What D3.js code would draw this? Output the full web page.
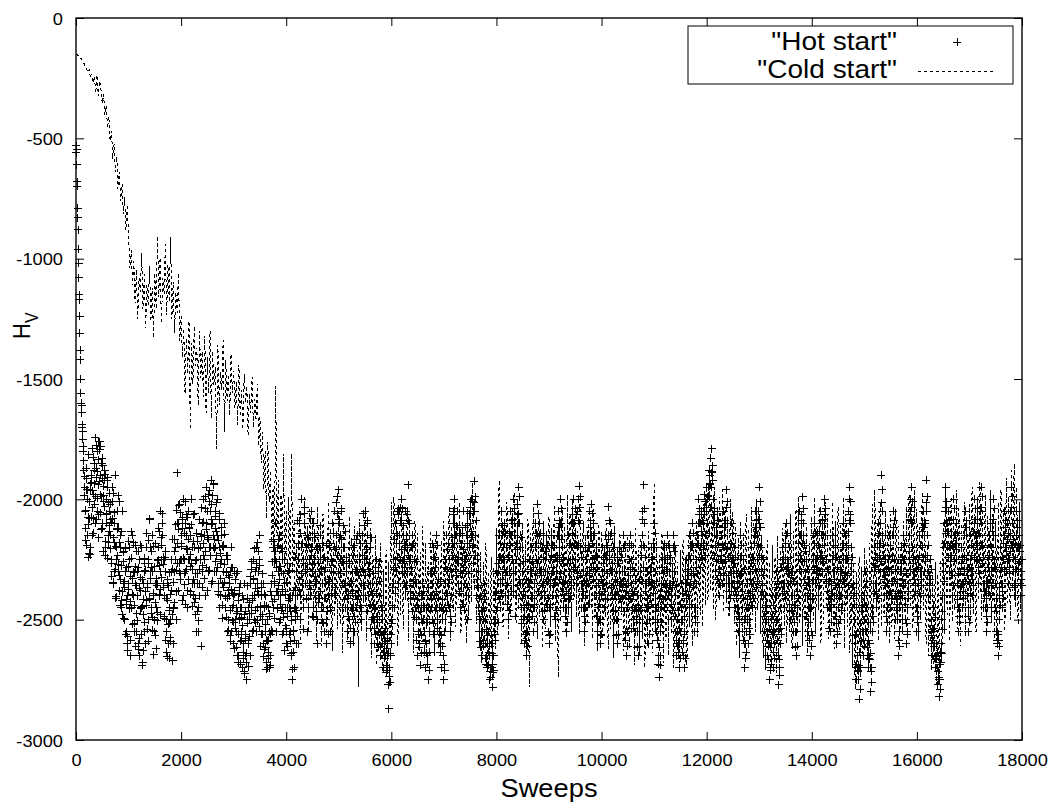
<!DOCTYPE html>
<html>
<head>
<meta charset="utf-8">
<script src="https://cdn.jsdelivr.net/npm/d3@7"></script>
<style>
html,body{margin:0;padding:0;background:#fff;}
svg{display:block;}
text{font-family:"Liberation Sans",Arial,Helvetica,sans-serif;fill:#000;}
</style>
</head>
<body>
<svg id="chart" width="1053" height="804"></svg>
<script>
// ---------- data ----------
const xTicks = [0,2000,4000,6000,8000,10000,12000,14000,16000,18000];
const yTicks = [0,-500,-1000,-1500,-2000,-2500,-3000];
const seriesNames = ['"Hot start"', '"Cold start"'];

// Hot start, first sweeps (0..145, every 5 sweeps)
const hotEarlyStep = 5;
const hotEarly = [-530,-560,-545,-610,-680,-700,-790,-830,-880,-960,
  -1020,-1080,-1150,-1170,-1240,-1310,-1380,-1420,-1500,-1560,
  -1600,-1640,-1610,-1700,-1690,-1750,-1720,-1800,-1780,-1840];

// Hot start, sweeps 150..18000, every 25 sweeps
const hotLateStart = 150, hotLateStep = 25;
const hotLate = [
-1880,-2050,-1960,-2150,-2010,-2200,-1930,-2080,-1850,-1990,-1800,-1940,-1760,-1900,-1830,-2010,-1880,-2100,-1950,-2180,
-2020,-2250,-2080,-2300,-1900,-2200,-2120,-2380,-2150,-2420,-2260,-2500,-2300,-2600,-2350,-2200,-2450,-2150,-2400,-2280,
-2550,-2300,-2650,-2380,-2200,-2480,-2300,-2600,-2420,-2250,-2080,-2300,-2150,-2400,-2500,-2620,-2350,-2200,-2050,-2250,
-2150,-2400,-2300,-2550,-2420,-2660,-2500,-2380,-2600,-2300,-2200,-1890,-2100,-2020,-2250,-2120,-2000,-2300,-2150,-2380,
-2050,-2280,-2000,-2200,-2350,-2480,-2250,-2550,-2400,-2200,-2100,-2000,-2250,-1950,-2150,-1980,-2200,-1920,-2100,-1940,
-2050,-2300,-2000,-2200,-2400,-2150,-2300,-2100,-2450,-2250,-2500,-2350,-2200,-2450,-2600,-2380,-2550,-2300,-2650,-2450,
-2550,-2700,-2480,-2650,-2750,-2600,-2500,-2350,-2550,-2250,-2400,-2200,-2450,-2300,-2150,-2350,-2500,-2600,-2400,-2680,
-2700,-2550,-2650,-2400,-2200,-2350,-2100,-2450,-2300,-2150,-2400,-2250,-2550,-2350,-2600,-2450,-2300,-2550,-2650,-2400,
-2700,-2500,-2300,-2600,-2100,-2400,-2000,-2250,-2100,-2350,-2150,-2450,-2250,-2050,-2300,-2100,-2400,-2200,-2500,-2300,
-2150,-2450,-2250,-2550,-2350,-2600,-2400,-2200,-2450,-2100,-2300,-2050,-2200,-1990,-1960,-2150,-2050,-2350,-2200,-2450,
-2300,-2550,-2350,-2600,-2450,-2200,-2550,-2300,-2150,-2400,-2250,-2500,-2150,-2350,-2050,-2250,-2100,-2400,-2200,-2500,
-2350,-2600,-2450,-2250,-2550,-2400,-2650,-2500,-2700,-2580,-2720,-2650,-2870,-2760,-2600,-2450,-2250,-2100,-2300,-2150,
-2050,-2250,-2000,-2150,-2350,-2050,-2200,-1940,-2100,-2300,-2150,-2400,-2250,-2500,-2650,-2450,-2690,-2500,-2350,-2550,
-2700,-2450,-2750,-2550,-2300,-2500,-2200,-2400,-2150,-2350,-2600,-2450,-2700,-2500,-2750,-2350,-2150,-2400,-2250,-2550,
-2300,-2100,-2000,-2250,-2050,-2350,-2150,-2450,-2250,-2050,-2350,-2150,-2500,-2300,-2100,-2000,-2200,-1925,-2150,-2400,
-2300,-2550,-2400,-2650,-2500,-2350,-2600,-2700,-2550,-2750,-2600,-2780,-2650,-2500,-2300,-2450,-2150,-2350,-2050,-2250,
-2100,-2400,-2200,-2500,-2300,-2050,-2250,-2000,-2150,-2400,-2020,-1950,-2200,-2450,-2300,-2600,-2400,-2650,-2500,-2250,
-2450,-2200,-2550,-2350,-2100,-2020,-2250,-2100,-2400,-2200,-2500,-2300,-2150,-2450,-2600,-2350,-2150,-2400,-2200,-2500,
-2300,-2050,-2250,-2000,-2200,-2450,-2300,-2550,-2350,-2150,-2400,-2100,-2250,-2000,-2150,-2350,-2050,-1945,-2200,-2450,
-2300,-2550,-2400,-2150,-2350,-2050,-2020,-2250,-2100,-2400,-2200,-2550,-2350,-2600,-2400,-2200,-2450,-2150,-2350,-2030,
-2250,-2100,-2400,-2200,-2500,-2300,-2600,-2400,-2200,-2450,-2300,-2150,-2400,-2650,-2450,-2250,-2150,-2350,-2500,-2300,
-2550,-2400,-2650,-2500,-2300,-2150,-1940,-2200,-2450,-2300,-2600,-2400,-2200,-2350,-2100,-2300,-2550,-2450,-2740,-2550,
-2350,-2200,-2450,-2250,-2150,-2400,-2200,-2500,-2300,-2150,-2400,-2650,-2500,-2700,-2550,-2350,-2600,-2700,-2450,-2250,
-2400,-2150,-2350,-2100,-2300,-2550,-2350,-2150,-2000,-2200,-2050,-2250,-1980,-2150,-1950,-2100,-1880,-1830,-1790,-2000,
-2150,-2300,-2050,-2250,-2400,-2150,-2350,-2050,-2250,-1960,-2200,-2450,-2300,-2100,-2350,-2200,-2450,-2300,-2550,-2350,
-2150,-2450,-2250,-2700,-2550,-2350,-2600,-2400,-2200,-2450,-2250,-2050,-2300,-2150,-1950,-2200,-2400,-2250,-2550,-2400,
-2650,-2500,-2750,-2600,-2400,-2700,-2550,-2300,-2500,-2770,-2600,-2350,-2200,-2450,-2250,-2100,-2350,-2200,-2500,-2300,
-2550,-2400,-2650,-2450,-2250,-2050,-2300,-1990,-2150,-2400,-2250,-2550,-2350,-2650,-2450,-2250,-2100,-2350,-2150,-2400,
-2200,-2050,-2300,-2150,-2000,-2250,-2450,-2300,-2550,-2350,-2150,-2400,-2200,-2600,-2450,-2250,-2500,-2300,-2100,-2350,
-2150,-2400,-2050,-1950,-2200,-2450,-2350,-2600,-2750,-2650,-2830,-2550,-2400,-2650,-2500,-2300,-2550,-2700,-2600,-2800,
-2550,-2350,-2200,-2450,-2250,-2100,-2300,-1900,-2150,-2400,-2250,-2550,-2350,-2150,-2450,-2300,-2050,-2250,-2500,-2350,
-2650,-2450,-2200,-2400,-2150,-2350,-2600,-2450,-2250,-2050,-1950,-2200,-2400,-2250,-2550,-2350,-2150,-2400,-2200,-2050,
-2300,-1920,-2150,-2400,-2250,-2500,-2650,-2450,-2700,-2600,-2770,-2820,-2680,-2500,-2300,-2100,-1950,-2200,-2050,-2300,
-2150,-2400,-2000,-2250,-2100,-2350,-2550,-2400,-2200,-2450,-2300,-2050,-2250,-2550,-2350,-2150,-2400,-2200,-2000,-2250,
-2100,-2350,-2150,-1950,-2200,-2450,-2300,-2550,-2350,-2150,-2400,-2200,-2000,-2250,-2450,-2600,-2650,-2400,-2200,-2450,
-2250,-2050,-2300,-2100,-2350,-2150,-1950,-2200,-2400,-2250,-2050,-2300,-2150,-2400,-2250];

// Hot start, in-between sweeps 162.5..17987.5, every 25 sweeps
const hotMidStart = 162.5, hotMidStep = 25;
const hotMid = [
-1950,-2120,-2000,-2240,-2080,-1900,-2150,-1980,-2100,-1870,-2050,-1760,-1980,-1850,-2100,-1920,-2200,-2000,-2150,-2050,
-2150,-1950,-2350,-2100,-2250,-2050,-2300,-2200,-2450,-2050,-2350,-2200,-2550,-2400,-2250,-2650,-2450,-2300,-2550,-2350,
-2400,-2600,-2250,-2450,-2690,-2350,-2550,-2200,-2350,-2500,-2200,-2450,-2300,-2550,-2350,-2450,-2250,-2400,-2300,-2100,
-2350,-2250,-2500,-2350,-2600,-2450,-2300,-2670,-2450,-2250,-2500,-2100,-2300,-2250,-2150,-2400,-2250,-2100,-2450,-2250,
-2250,-2150,-2350,-2400,-2200,-2550,-2350,-2450,-2250,-2610,-2300,-2150,-2400,-2100,-2300,-2200,-2050,-2350,-2200,-2300,
-2200,-2150,-2350,-2450,-2250,-2350,-2200,-2400,-2300,-2550,-2400,-2300,-2550,-2400,-2300,-2500,-2450,-2680,-2500,-2350,
-2400,-2600,-2350,-2680,-2500,-2450,-2650,-2450,-2400,-2500,-2300,-2550,-2350,-2250,-2450,-2400,-2350,-2450,-2550,-2500,
-2450,-2700,-2350,-2550,-2450,-2250,-2550,-2200,-2400,-2500,-2300,-2450,-2250,-2450,-2550,-2300,-2450,-2400,-2750,-2550,
-2450,-2600,-2400,-2250,-2500,-2200,-2350,-2450,-2300,-2200,-2550,-2350,-2400,-2200,-2450,-2250,-2350,-2600,-2400,-2200,
-2300,-2350,-2450,-2300,-2500,-2250,-2350,-2550,-2300,-2350,-2200,-2400,-2150,-2300,-2100,-2250,-2450,-2200,-2350,-2300,
-2450,-2400,-2500,-2350,-2300,-2450,-2400,-2450,-2300,-2250,-2450,-2350,-2300,-2250,-2400,-2150,-2350,-2300,-2350,-2400,
-2500,-2450,-2350,-2600,-2300,-2550,-2450,-2600,-2550,-2650,-2620,-2770,-2700,-2650,-2500,-2350,-2450,-2250,-2050,-2350,
-2150,-2100,-2300,-2250,-2200,-2150,-2300,-2100,-2250,-2200,-2350,-2250,-2450,-2350,-2550,-2600,-2550,-2400,-2500,-2450,
-2600,-2650,-2450,-2400,-2450,-2350,-2300,-2250,-2450,-2500,-2550,-2600,-2450,-2650,-2550,-2250,-2300,-2350,-2450,-2400,
-2200,-2050,-2150,-2150,-2250,-2250,-2300,-2350,-2150,-2250,-2250,-2400,-2400,-2200,-2050,-2150,-2050,-2050,-2300,-2250,
-2450,-2500,-2550,-2550,-2450,-2500,-2650,-2600,-2650,-2700,-2700,-2720,-2550,-2400,-2350,-2300,-2250,-2250,-2150,-2200,
-2250,-2300,-2350,-2400,-2150,-2150,-2100,-2100,-2300,-2250,-2100,-2100,-2350,-2350,-2500,-2450,-2550,-2550,-2350,-2350,
-2300,-2400,-2450,-2200,-2250,-2150,-2150,-2300,-2300,-2350,-2400,-2250,-2300,-2550,-2450,-2250,-2300,-2300,-2350,-2400,
-2150,-2150,-2100,-2100,-2350,-2350,-2450,-2450,-2250,-2300,-2250,-2200,-2100,-2100,-2250,-2200,-2000,-2100,-2350,-2350,
-2450,-2450,-2250,-2300,-2200,-2150,-2150,-2150,-2250,-2300,-2400,-2450,-2500,-2500,-2300,-2350,-2300,-2250,-2200,-2150,
-2150,-2300,-2300,-2400,-2400,-2500,-2500,-2300,-2350,-2350,-2200,-2300,-2550,-2550,-2350,-2200,-2250,-2450,-2400,-2450,
-2450,-2550,-2550,-2400,-2200,-2050,-2100,-2350,-2350,-2450,-2500,-2300,-2250,-2200,-2200,-2450,-2500,-2650,-2650,-2450,
-2250,-2350,-2350,-2200,-2300,-2300,-2350,-2400,-2200,-2300,-2550,-2550,-2600,-2600,-2450,-2500,-2650,-2550,-2350,-2300,
-2250,-2250,-2200,-2200,-2450,-2450,-2250,-2100,-2100,-2100,-2150,-2100,-2050,-2050,-2000,-1950,-1900,-1950,-1920,-2100,
-2200,-2150,-2150,-2350,-2250,-2250,-2200,-2150,-2100,-2100,-2350,-2350,-2200,-2250,-2250,-2350,-2400,-2450,-2450,-2250,
-2300,-2350,-2500,-2600,-2450,-2450,-2500,-2300,-2350,-2350,-2150,-2150,-2250,-2050,-2100,-2300,-2350,-2400,-2450,-2500,
-2550,-2600,-2700,-2500,-2550,-2600,-2400,-2400,-2650,-2700,-2450,-2250,-2350,-2350,-2150,-2250,-2300,-2350,-2400,-2400,
-2450,-2550,-2550,-2350,-2150,-2150,-2100,-2100,-2250,-2300,-2400,-2450,-2450,-2550,-2350,-2150,-2250,-2250,-2300,-2300,
-2100,-2150,-2250,-2100,-2150,-2350,-2350,-2450,-2450,-2250,-2300,-2300,-2400,-2550,-2350,-2400,-2400,-2200,-2250,-2250,
-2250,-2250,-2000,-2100,-2300,-2400,-2500,-2700,-2700,-2750,-2700,-2450,-2550,-2550,-2400,-2450,-2650,-2650,-2700,-2700,
-2450,-2300,-2350,-2350,-2150,-2200,-2100,-2050,-2300,-2300,-2400,-2450,-2250,-2300,-2400,-2150,-2150,-2400,-2450,-2500,
-2550,-2300,-2300,-2250,-2250,-2500,-2550,-2350,-2150,-2000,-2100,-2300,-2300,-2450,-2450,-2250,-2300,-2300,-2100,-2150,
-2100,-2050,-2300,-2350,-2400,-2600,-2550,-2600,-2650,-2700,-2750,-2750,-2600,-2400,-2200,-2050,-2100,-2100,-2200,-2200,
-2300,-2200,-2150,-2150,-2250,-2450,-2450,-2300,-2350,-2350,-2150,-2150,-2400,-2450,-2250,-2300,-2300,-2100,-2150,-2150,
-2250,-2250,-2050,-2100,-2350,-2350,-2450,-2450,-2250,-2300,-2300,-2100,-2150,-2350,-2550,-2550,-2500,-2300,-2350,-2350,
-2150,-2200,-2200,-2250,-2250,-2050,-2100,-2300,-2350,-2150,-2200,-2200,-2350,-2300];

// Hot start, further sweeps 156..17981, every 25 sweeps
const hotQStart = 156, hotQStep = 25;
const hotQ = [
-1985,-2170,-1915,-2075,-2225,-1965,-2035,-1825,-1935,-1775,-1885,-2065,-1795,-2125,-1915,-1985,-2235,-2060,-1910,-2110,
-2085,-2320,-1975,-2180,-2410,-2125,-2270,-2010,-2335,-2480,-2215,-2365,-2435,-2570,-2280,-2425,-2135,-2330,-2515,-2190,
-2475,-2215,-2580,-2325,-2445,-2630,-2265,-2385,-2540,-2170,-2410,-2285,-2490,-2195,-2565,-2330,-2470,-2135,-2375,-2190,
-2270,-2485,-2215,-2635,-2360,-2515,-2590,-2290,-2455,-2165,-2385,-2265,-2025,-2335,-2185,-2075,-2310,-2435,-2065,-2210,
-2115,-2395,-2265,-2065,-2430,-2310,-2175,-2505,-2290,-2145,-2365,-2235,-2040,-2285,-2160,-2010,-2235,-2085,-1985,-2165,
-2120,-2235,-2385,-2085,-2265,-2495,-2190,-2345,-2235,-2410,-2315,-2565,-2285,-2390,-2510,-2335,-2615,-2465,-2390,-2590,
-2490,-2635,-2715,-2560,-2410,-2585,-2475,-2290,-2420,-2335,-2510,-2265,-2385,-2215,-2485,-2560,-2310,-2440,-2615,-2585,
-2635,-2485,-2560,-2315,-2165,-2415,-2260,-2385,-2190,-2335,-2460,-2215,-2490,-2385,-2535,-2265,-2410,-2590,-2485,-2635,
-2585,-2365,-2485,-2185,-2335,-2065,-2185,-2265,-2035,-2415,-2290,-2160,-2375,-2235,-2485,-2140,-2320,-2465,-2265,-2410,
-2385,-2185,-2515,-2410,-2285,-2465,-2335,-2185,-2390,-2260,-2140,-2365,-2015,-2235,-2085,-2310,-2165,-2265,-2415,-2135,
-2385,-2485,-2265,-2535,-2390,-2235,-2485,-2165,-2415,-2315,-2185,-2465,-2235,-2110,-2315,-2185,-2465,-2265,-2535,-2385,
-2435,-2535,-2285,-2485,-2615,-2340,-2565,-2460,-2635,-2535,-2690,-2585,-2735,-2640,-2515,-2365,-2165,-2285,-2185,-2065,
-2185,-2035,-2265,-2110,-2285,-2165,-2065,-2235,-2385,-2285,-2465,-2185,-2335,-2585,-2415,-2615,-2465,-2565,-2385,-2635,
-2585,-2685,-2365,-2635,-2415,-2185,-2515,-2285,-2385,-2535,-2335,-2635,-2565,-2415,-2685,-2285,-2465,-2185,-2335,-2485,
-2235,-2065,-2185,-2315,-2115,-2265,-2385,-2185,-2435,-2285,-2115,-2235,-2365,-2185,-2035,-2135,-2265,-2015,-2235,-2335,
-2365,-2485,-2615,-2465,-2585,-2415,-2685,-2565,-2635,-2715,-2565,-2685,-2515,-2585,-2385,-2265,-2415,-2185,-2335,-2135,
-2185,-2315,-2435,-2235,-2135,-2385,-2085,-2265,-2485,-2185,-2065,-2335,-2265,-2515,-2385,-2485,-2585,-2335,-2435,-2365,
-2335,-2485,-2285,-2435,-2185,-2265,-2385,-2185,-2315,-2465,-2385,-2215,-2435,-2335,-2565,-2435,-2235,-2285,-2485,-2335,
-2235,-2115,-2335,-2165,-2385,-2265,-2485,-2385,-2265,-2415,-2185,-2335,-2065,-2185,-2285,-2065,-2185,-2035,-2315,-2385,
-2385,-2485,-2315,-2215,-2435,-2115,-2285,-2185,-2335,-2235,-2485,-2285,-2435,-2565,-2335,-2265,-2385,-2235,-2415,-2165,
-2215,-2365,-2265,-2465,-2335,-2565,-2385,-2265,-2415,-2215,-2365,-2465,-2585,-2385,-2315,-2185,-2415,-2285,-2535,-2385,
-2485,-2615,-2465,-2335,-2235,-2085,-2285,-2385,-2515,-2435,-2335,-2285,-2435,-2185,-2365,-2465,-2585,-2685,-2615,-2385,
-2285,-2415,-2185,-2365,-2235,-2385,-2265,-2435,-2365,-2215,-2485,-2585,-2635,-2535,-2435,-2635,-2585,-2485,-2385,-2335,
-2315,-2235,-2435,-2185,-2365,-2485,-2285,-2185,-2065,-2285,-2135,-2185,-2065,-2235,-2035,-1985,-1935,-2035,-1885,-2065,
-2235,-2115,-2335,-2185,-2315,-2235,-2265,-2115,-2185,-2035,-2315,-2385,-2235,-2185,-2285,-2265,-2385,-2365,-2485,-2315,
-2235,-2385,-2585,-2485,-2635,-2415,-2535,-2335,-2265,-2385,-2185,-2115,-2365,-2085,-2235,-2115,-2385,-2315,-2485,-2465,
-2585,-2665,-2615,-2685,-2485,-2635,-2465,-2365,-2585,-2665,-2535,-2285,-2265,-2385,-2185,-2285,-2265,-2435,-2315,-2465,
-2485,-2615,-2485,-2385,-2185,-2235,-2065,-2185,-2335,-2215,-2485,-2335,-2585,-2415,-2565,-2335,-2185,-2285,-2235,-2335,
-2135,-2235,-2085,-2265,-2065,-2335,-2385,-2535,-2415,-2435,-2235,-2335,-2485,-2285,-2515,-2365,-2335,-2435,-2185,-2315,
-2235,-2315,-2135,-2065,-2265,-2365,-2435,-2565,-2685,-2715,-2635,-2515,-2465,-2585,-2435,-2365,-2615,-2585,-2665,-2715,
-2485,-2265,-2285,-2385,-2185,-2235,-2185,-2015,-2235,-2335,-2315,-2485,-2285,-2235,-2385,-2235,-2115,-2335,-2415,-2435,
-2585,-2385,-2265,-2335,-2185,-2435,-2515,-2385,-2215,-2085,-2035,-2265,-2335,-2385,-2485,-2285,-2235,-2335,-2135,-2115,
-2235,-2015,-2235,-2315,-2335,-2565,-2585,-2535,-2665,-2655,-2715,-2685,-2635,-2465,-2265,-2185,-2035,-2135,-2135,-2235,
-2235,-2315,-2085,-2185,-2185,-2415,-2485,-2365,-2265,-2385,-2235,-2115,-2315,-2485,-2285,-2235,-2335,-2135,-2085,-2185,
-2185,-2285,-2085,-2035,-2265,-2385,-2385,-2485,-2285,-2235,-2335,-2135,-2085,-2285,-2465,-2585,-2585,-2365,-2285,-2385,
-2185,-2115,-2235,-2165,-2285,-2215,-2035,-2165,-2365,-2185,-2115,-2265,-2215,-2335];

// Hot start, extra early sweeps 170..4157.5, every 12.5 sweeps
const hotRStart = 170, hotRStep = 12.5;
const hotR = [
-1905,-2045,-1870,-2190,-1960,-2105,-1815,-2010,-2230,-1935,-2075,-1790,-1965,-2140,-1880,-2020,-1745,-1910,-2085,-1995,
-1835,-2160,-1925,-2055,-1780,-1990,-2120,-1860,-2215,-1945,-2030,-1895,-2175,-2065,-1920,-2245,-2015,-2135,-1975,-2205,
-2095,-2265,-2010,-2345,-2160,-2055,-2290,-2195,-2405,-2120,-2235,-1985,-2315,-2180,-2440,-2275,-2135,-2385,-2220,-2495,
-2340,-2205,-2560,-2415,-2285,-2630,-2375,-2175,-2455,-2320,-2585,-2245,-2395,-2520,-2180,-2440,-2305,-2610,-2360,-2215,
-2505,-2285,-2625,-2370,-2190,-2455,-2560,-2335,-2680,-2415,-2245,-2510,-2295,-2440,-2140,-2365,-2590,-2265,-2415,-2085,
-2330,-2475,-2215,-2545,-2390,-2645,-2280,-2430,-2185,-2360,-2505,-2255,-2120,-2395,-2275,-2480,-2160,-2325,-2060,-2240,
-2365,-2495,-2240,-2585,-2410,-2655,-2335,-2520,-2460,-2305,-2575,-2395,-2250,-2480,-2165,-2345,-2430,-2215,-2105,-2295,
-2045,-2185,-2380,-2125,-2265,-2055,-2310,-2195,-2420,-2085,-2245,-2140,-2355,-2010,-2205,-2290,-2075,-2165,-2335,-2120,
-2230,-2385,-2105,-2290,-2445,-2175,-2335,-2060,-2255,-2410,-2140,-2310,-2465,-2205,-2085,-2350,-2250,-2155,-2035,-2275,
-2185,-2095,-2330,-1990,-2215,-2125,-2380,-2050,-2165,-2295,-1965,-2235,-2105,-2020,-2340,-2150,-1935,-2205,-2070,-2260,
-2135,-2015,-2285,-2170,-2395,-2060,-2225,-2330,-2115,-2440,-2195,-2365,-2270,-2145,-2405,-2305,-2490,-2235,-2380,-2545,
-2325,-2460,-2590,-2375,-2505,-2285,-2440,-2620,-2395,-2535,-2310,-2475,-2650,-2420,-2560,-2365,-2495,-2685,-2450,-2585,
-2525,-2660,-2415,-2725,-2580,-2465,-2640,-2360,-2515,-2695,-2430,-2570,-2320,-2475,-2260,-2410,-2545,-2330,-2205,-2460,
-2370,-2285,-2505,-2180,-2395,-2530,-2275,-2445,-2610,-2365,-2560,-2480,-2655,-2395,-2625,-2520,-2705,-2445,-2590,-2660,
-2585,-2475,-2690,-2385,-2545,-2260,-2425,-2175,-2340,-2495,-2215,-2385,-2285,-2455,-2165,-2360,-2510,-2280,-2435,-2205,
-2375,-2560,-2310,-2475,-2630,-2395,-2525,-2345,-2485,-2610,-2420,-2560,-2295,-2465,-2640,-2505,-2705,-2380,-2545,-2455];

// Hot start, extra later sweeps 4170..17995, every 25 sweeps
const hotSStart = 4170, hotSStep = 25;
const hotS = [
-2240,-2460,-2090,-2380,-2140,-2310,-2540,-2060,-2290,-2410,-2190,-2360,-2080,-2270,-2490,-2160,-2340,-2210,-2430,-2110,
-2290,-2510,-2240,-2410,-2190,-2560,-2340,-2460,-2260,-2140,-2390,-2210,-2060,-2310,-2160,-2040,-2260,-2110,-2360,-2240,
-2410,-2260,-2590,-2340,-2460,-2190,-2510,-2290,-2380,-2140,-2440,-2290,-2060,-2360,-2210,-2090,-2290,-2440,-2160,-2490,
-2310,-2560,-2390,-2510,-2260,-2610,-2440,-2560,-2660,-2590,-2710,-2640,-2760,-2560,-2440,-2290,-2390,-2140,-2240,-2040,
-2090,-2210,-2040,-2310,-2190,-2360,-2090,-2260,-2410,-2190,-2340,-2490,-2260,-2440,-2560,-2390,-2640,-2510,-2440,-2590,
-2640,-2510,-2710,-2460,-2310,-2560,-2240,-2460,-2190,-2410,-2560,-2340,-2610,-2460,-2710,-2390,-2210,-2440,-2290,-2510,
-2160,-2040,-2290,-2110,-2240,-2390,-2140,-2310,-2210,-2460,-2260,-2110,-2310,-2060,-2160,-2010,-2190,-1990,-2090,-2360,
-2410,-2590,-2460,-2610,-2390,-2660,-2540,-2690,-2610,-2740,-2640,-2710,-2560,-2460,-2310,-2510,-2240,-2390,-2110,-2290,
-2140,-2360,-2240,-2460,-2190,-2090,-2310,-2040,-2210,-2360,-2060,-1990,-2160,-2410,-2260,-2560,-2440,-2610,-2490,-2290,
-2410,-2260,-2510,-2310,-2140,-2060,-2290,-2140,-2360,-2240,-2460,-2340,-2190,-2410,-2560,-2310,-2190,-2360,-2240,-2460,
-2260,-2090,-2310,-2040,-2240,-2410,-2340,-2510,-2390,-2190,-2360,-2140,-2290,-2040,-2190,-2310,-2090,-1990,-2240,-2410,
-2340,-2510,-2360,-2190,-2310,-2090,-2060,-2290,-2140,-2360,-2240,-2510,-2390,-2560,-2360,-2240,-2410,-2190,-2310,-2090,
-2290,-2140,-2360,-2240,-2460,-2340,-2560,-2360,-2240,-2410,-2340,-2190,-2360,-2610,-2410,-2290,-2190,-2390,-2460,-2340,
-2510,-2440,-2610,-2460,-2340,-2190,-2040,-2240,-2410,-2340,-2560,-2360,-2240,-2390,-2140,-2340,-2510,-2410,-2690,-2510,
-2310,-2240,-2410,-2290,-2190,-2360,-2240,-2460,-2340,-2190,-2360,-2610,-2460,-2660,-2510,-2390,-2560,-2660,-2410,-2290,
-2360,-2190,-2310,-2140,-2340,-2510,-2310,-2190,-2040,-2240,-2090,-2210,-2010,-2190,-1990,-2140,-1940,-1890,-1860,-2040,
-2190,-2260,-2090,-2290,-2360,-2190,-2310,-2090,-2210,-2010,-2240,-2410,-2260,-2140,-2310,-2240,-2410,-2340,-2510,-2310,
-2190,-2410,-2290,-2660,-2510,-2390,-2560,-2440,-2240,-2410,-2290,-2090,-2340,-2190,-2010,-2240,-2360,-2290,-2510,-2440,
-2610,-2540,-2710,-2560,-2440,-2660,-2510,-2340,-2540,-2730,-2560,-2390,-2240,-2410,-2290,-2140,-2310,-2240,-2460,-2340,
-2510,-2440,-2610,-2410,-2290,-2090,-2260,-2040,-2190,-2360,-2290,-2510,-2390,-2610,-2410,-2290,-2140,-2310,-2190,-2360,
-2240,-2090,-2260,-2190,-2040,-2290,-2410,-2340,-2510,-2390,-2190,-2360,-2240,-2560,-2410,-2290,-2460,-2340,-2140,-2310,
-2190,-2360,-2090,-2010,-2240,-2410,-2390,-2560,-2710,-2690,-2790,-2590,-2440,-2610,-2540,-2340,-2510,-2660,-2640,-2760,
-2510,-2390,-2240,-2410,-2290,-2140,-2260,-1960,-2190,-2360,-2290,-2510,-2390,-2190,-2410,-2340,-2090,-2290,-2460,-2390,
-2610,-2410,-2240,-2360,-2190,-2310,-2560,-2410,-2290,-2090,-2010,-2240,-2360,-2290,-2510,-2390,-2190,-2360,-2240,-2090,
-2260,-1990,-2190,-2360,-2290,-2540,-2610,-2490,-2660,-2640,-2740,-2790,-2640,-2540,-2340,-2140,-2010,-2240,-2090,-2260,
-2190,-2360,-2040,-2210,-2140,-2310,-2510,-2360,-2240,-2410,-2340,-2090,-2290,-2510,-2390,-2190,-2360,-2240,-2040,-2210,
-2140,-2310,-2190,-1990,-2240,-2410,-2340,-2510,-2390,-2190,-2360,-2240,-2040,-2290,-2410,-2560,-2610,-2440,-2240,-2410,
-2290,-2090,-2260,-2140,-2310,-2190,-1990,-2240,-2360,-2290,-2090,-2260,-2190,-2360];

// Cold start, sweeps 0..18000, every 25 sweeps
const coldStep = 25;
const cold = [
-150,-153,-157,-163,-170,-178,-188,-199,-208,-226,-215,-248,-232,-271,-244,-312,-236,-325,-262,-298,
-355,-318,-402,-365,-458,-411,-512,-470,-585,-522,-640,-575,-712,-638,-760,-690,-815,-742,-880,-775,
-910,-1040,-965,-1110,-1010,-1185,-1045,-1250,-1080,-1140,-975,-1210,-1065,-1290,-1110,-1195,-1030,-1260,-1120,-1330,
-1060,-1210,-905,-1160,-995,-1270,-1080,-1145,-940,-1235,-1025,-1180,-910,-1250,-1095,-1310,-1140,-1225,-1060,-1340,
-1240,-1410,-1290,-1560,-1330,-1480,-1260,-1710,-1350,-1520,-1280,-1445,-1370,-1610,-1300,-1495,-1385,-1575,-1320,-1640,
-1410,-1560,-1300,-1665,-1385,-1525,-1450,-1790,-1360,-1610,-1470,-1545,-1340,-1720,-1420,-1590,-1480,-1650,-1395,-1560,
-1465,-1620,-1510,-1690,-1440,-1655,-1545,-1710,-1480,-1600,-1530,-1735,-1560,-1640,-1490,-1700,-1585,-1665,-1520,-1780,
-1660,-1850,-1720,-1960,-1800,-2080,-1760,-2010,-1880,-2190,-1950,-2280,-1530,-2150,-1920,-2330,-1980,-2240,-1810,-2350,
-2050,-2380,-1990,-2460,-1810,-2310,-2090,-2520,-2180,-2400,-2030,-2590,-2150,-2440,-1990,-2360,-2110,-2550,-2040,-2420,
-2080,-2470,-2150,-2590,-2030,-2420,-2190,-2610,-2060,-2380,-2240,-2560,-2010,-2450,-2120,-2630,-2090,-2490,-2170,-2540,
-2050,-2520,-2180,-2640,-2100,-2410,-2230,-2590,-2070,-2480,-2160,-2610,-2110,-2460,-2210,-2780,-2080,-2550,-2140,-2430,
-2060,-2590,-2190,-2470,-2120,-2660,-2230,-2560,-2150,-2690,-2250,-2610,-2180,-2720,-2290,-2640,-2210,-2700,-2260,-2590,
-2010,-2560,-1990,-2430,-2080,-2610,-2130,-2480,-2050,-2540,-2170,-2420,-2030,-2590,-2110,-2460,-2200,-2640,-2090,-2510,
-2140,-2630,-2220,-2500,-2110,-2660,-2180,-2540,-2260,-2600,-2130,-2480,-2200,-2650,-2150,-2560,-2240,-2610,-2170,-2520,
-2090,-2550,-2160,-2440,-2030,-2590,-2110,-2470,-2060,-2530,-2140,-2420,-2010,-2560,-2090,-2450,-2170,-2600,-2040,-2500,
-1990,-2430,-1930,-2380,-2080,-2520,-2140,-2610,-2220,-2680,-2260,-2590,-2180,-2710,-2300,-2640,-2240,-2750,-2280,-2620,
-2120,-2560,-1920,-2470,-2060,-2530,-2100,-2440,-2010,-2580,-2150,-2490,-2040,-2410,-1970,-2520,-2090,-2460,-2130,-2600,
-2100,-2590,-2170,-2660,-2080,-2780,-2140,-2520,-2030,-2470,-2110,-2580,-2060,-2490,-2160,-2620,-2090,-2540,-2130,-2450,
-2070,-2530,-2120,-2460,-2020,-2590,-2150,-2740,-2090,-2510,-2030,-2440,-2110,-2570,-1980,-2480,-2060,-2550,-2000,-2420,
-2050,-2490,-2130,-2560,-2020,-2470,-2090,-2610,-2150,-2520,-2070,-2450,-2120,-2580,-2040,-2500,-2170,-2630,-2100,-2540,
-2130,-2580,-2190,-2490,-2100,-2620,-2230,-2540,-2160,-2660,-2110,-2510,-2200,-2590,-2140,-2480,-2220,-2630,-2170,-2560,
-2150,-2620,-2240,-2560,-2180,-2690,-2120,-2540,-2210,-2650,-2160,-2580,-2250,-2700,-2190,-2610,-2130,-2550,-2220,-2640,
-1930,-2560,-2160,-2620,-2230,-2540,-2140,-2680,-2200,-2590,-2250,-2650,-2170,-2560,-2240,-2700,-2190,-2620,-2260,-2680,
-2210,-2640,-2170,-2560,-2240,-2690,-2150,-2530,-2120,-2610,-2180,-2500,-2090,-2570,-2130,-2480,-2060,-2530,-2010,-2440,
-1960,-2420,-1900,-2380,-2010,-2460,-1950,-2500,-2040,-2410,-1990,-2350,-1960,-2470,-2030,-2430,-2070,-2490,-2000,-2400,
-2050,-2520,-2110,-2610,-2160,-2660,-2090,-2570,-2140,-2620,-2060,-2510,-2120,-2590,-2030,-2480,-2100,-2550,-2000,-2460,
-2060,-2560,-2150,-2660,-2230,-2710,-2170,-2620,-2260,-2690,-2190,-2600,-2240,-2720,-2150,-2640,-2210,-2580,-2120,-2530,
-2100,-2600,-2170,-2550,-2060,-2620,-2130,-2480,-2040,-2560,-1990,-2520,-2090,-2610,-2150,-2570,-2110,-2640,-2180,-2530,
-2070,-2500,-1990,-2560,-2110,-2460,-2030,-2600,-2080,-2520,-1980,-2450,-2060,-2580,-2120,-2490,-2010,-2620,-2090,-2540,
-2030,-2560,-2100,-2480,-1990,-2620,-2060,-2530,-2150,-2640,-2210,-2700,-2260,-2790,-2300,-2680,-2240,-2740,-2280,-2650,
-2200,-2620,-2250,-2710,-2180,-2560,-2020,-2510,-1960,-2460,-2080,-2590,-2010,-2530,-2120,-2480,-2050,-2570,-2100,-2600,
-2060,-2530,-2130,-2580,-2040,-2490,-2110,-2620,-2170,-2560,-2090,-2500,-2030,-2570,-1980,-2450,-2060,-2540,-1960,-2480,
-2040,-2590,-2110,-2500,-1970,-2460,-2080,-2600,-2190,-2650,-2240,-2710,-2300,-2690,-2260,-2770,-2310,-2740,-2250,-2680,
-2090,-2560,-1950,-2480,-2030,-2590,-1990,-2510,-2070,-2460,-1960,-2540,-2040,-2610,-2100,-2500,-2010,-2570,-2080,-2460,
-2020,-2520,-1950,-2480,-2060,-2550,-1990,-2420,-1930,-2500,-2040,-2460,-1980,-2530,-2070,-2440,-1960,-2510,-2030,-2580,
-2090,-2600,-2010,-2520,-1960,-2470,-2040,-2550,-1910,-2430,-1990,-2500,-1880,-2380,-1850,-2450,-1950,-2520,-2010,-2470,
-2250];

// ---------- layout ----------
const L = 76, R = 1022, T = 18, B = 740;
const svg = d3.select('#chart');
const x = d3.scaleLinear().domain([0, 18000]).range([L, R]);
const y = d3.scaleLinear().domain([-3000, 0]).range([B, T]);

const hotPts = hotEarly.map((v, i) => [i * hotEarlyStep, v])
  .concat(hotLate.map((v, i) => [hotLateStart + i * hotLateStep, v]))
  .concat(hotMid.map((v, i) => [hotMidStart + i * hotMidStep, v]))
  .concat(hotQ.map((v, i) => [hotQStart + i * hotQStep, v]))
  .concat(hotR.map((v, i) => [hotRStart + i * hotRStep, v]))
  .concat(hotS.map((v, i) => [hotSStart + i * hotSStep, v]));
const coldPts = cold.map((v, i) => [i * coldStep, v]);

const fontTick = 16.3, sx = 1.12;
const fmt = d => String(d);

// axes with inward ticks
const gB = svg.append('g').attr('transform', `translate(0,${B})`)
  .call(d3.axisBottom(x).tickValues(xTicks).tickSizeInner(-8).tickSizeOuter(0).tickFormat(fmt));
gB.selectAll('text').attr('y', 26).attr('dy', 0)
  .attr('transform', `scale(${sx},1)`).style('font-size', fontTick + 'px');
const gT = svg.append('g').attr('transform', `translate(0,${T})`)
  .call(d3.axisTop(x).tickValues(xTicks).tickSizeInner(-8).tickSizeOuter(0).tickFormat(''));
const gL = svg.append('g').attr('transform', `translate(${L},0)`)
  .call(d3.axisLeft(y).tickValues(yTicks).tickSizeInner(-8).tickSizeOuter(0).tickFormat(fmt));
gL.selectAll('text').attr('x', -11.6).attr('y', 6).attr('dy', 0)
  .attr('transform', `scale(${sx},1)`).style('font-size', fontTick + 'px');
const gR = svg.append('g').attr('transform', `translate(${R},0)`)
  .call(d3.axisRight(y).tickValues(yTicks).tickSizeInner(-8).tickSizeOuter(0).tickFormat(''));
[gB, gT, gL, gR].forEach(g => {
  g.select('.domain').remove();
  g.selectAll('line').attr('stroke', '#000').attr('stroke-width', 1);
  g.attr('font-family', null).attr('font-size', null);
});

// Hot start markers
const plus = 'M-4,0H4M0,-4V4';
svg.append('g').attr('class', 'hot')
  .selectAll('path').data(hotPts).join('path')
  .attr('transform', d => `translate(${x(d[0])},${y(d[1])})`)
  .attr('d', plus).attr('fill', 'none').attr('stroke', '#000').attr('stroke-width', 1)
  .attr('shape-rendering', 'crispEdges');

// Cold start dotted line
svg.append('path').datum(coldPts)
  .attr('d', d3.line().x(d => x(d[0])).y(d => y(d[1])))
  .attr('fill', 'none').attr('stroke', '#000').attr('stroke-width', 1)
  .attr('stroke-dasharray', '3,3').attr('shape-rendering', 'crispEdges');

// frame
svg.append('rect').attr('x', L).attr('y', T).attr('width', R - L).attr('height', B - T)
  .attr('fill', 'none').attr('stroke', '#000').attr('stroke-width', 1.4);

// legend
const leg = svg.append('g');
leg.append('rect').attr('x', 688).attr('y', 26).attr('width', 325).attr('height', 58)
  .attr('fill', 'none').attr('stroke', '#000').attr('stroke-width', 1);
leg.append('text').attr('transform', `translate(897,50) scale(${sx},1)`)
  .attr('text-anchor', 'end').style('font-size', '25px').text(seriesNames[0]);
leg.append('text').attr('transform', `translate(897,78) scale(${sx},1)`)
  .attr('text-anchor', 'end').style('font-size', '25px').text(seriesNames[1]);
leg.append('path').attr('transform', 'translate(957,42)').attr('d', plus)
  .attr('fill', 'none').attr('stroke', '#000').attr('stroke-width', 1).attr('shape-rendering', 'crispEdges');
leg.append('line').attr('x1', 918).attr('x2', 996).attr('y1', 71.5).attr('y2', 71.5)
  .attr('stroke', '#000').attr('stroke-width', 1).attr('stroke-dasharray', '3,3');

// axis titles
svg.append('text').attr('transform', `translate(${(L + R) / 2},797) scale(1.05,1)`)
  .attr('text-anchor', 'middle').style('font-size', '26px').text('Sweeps');
const yl = svg.append('text').attr('transform', `translate(30,339) scale(${sx},1) rotate(-90)`)
  .attr('text-anchor', 'start').style('font-size', '22px');
yl.append('tspan').text('H');
yl.append('tspan').attr('dy', 7).style('font-size', '16px').text('V');
</script>
</body>
</html>
